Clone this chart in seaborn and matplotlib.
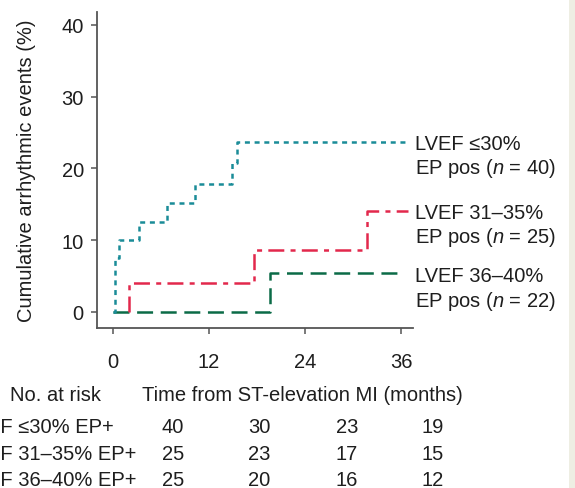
import matplotlib
matplotlib.use("Agg")
import matplotlib.pyplot as plt
import seaborn as sns
import pandas as pd
from matplotlib.patches import Rectangle

# ---- data ----
teal_t = [0, 0.25, 0.8, 3.2, 6.7, 10.3, 14.9, 15.5, 36.9]
teal_y = [0, 7.5, 10.0, 12.5, 15.2, 17.8, 20.8, 23.7, 23.7]
red_t = [2.0, 2.0, 17.6, 31.8, 36.9]
red_y = [0, 4.0, 8.7, 14.1, 14.1]
green_t = [0, 19.6, 35.9]
green_y = [0, 5.4, 5.4]

xticks = [0, 12, 24, 36]
yticks = [0, 10, 20, 30, 40]

group_labels = ["LVEF \u226430%\nEP pos ($n$ = 40)",
                "LVEF 31\u201335%\nEP pos ($n$ = 25)",
                "LVEF 36\u201340%\nEP pos ($n$ = 22)"]
risk_labels = ["LVEF \u226430% EP+", "LVEF 31\u201335% EP+", "LVEF 36\u201340% EP+"]
risk_row1 = [40, 30, 23, 19]
risk_row2 = [25, 23, 17, 15]
risk_row3 = [25, 20, 16, 12]

# ---- style ----
sns.set_style("ticks")
plt.rcParams['font.family'] = ['Liberation Sans', 'DejaVu Sans']
plt.rcParams['mathtext.fontset'] = 'custom'
plt.rcParams['mathtext.it'] = 'Liberation Sans:italic'
plt.rcParams['mathtext.rm'] = 'Liberation Sans'
plt.rcParams['lines.scale_dashes'] = False

W, H = 575, 489
FS = 14.5
TXT = '#1e1e1e'
fig = plt.figure(figsize=(W / 100, H / 100), dpi=100)
fig.patch.set_facecolor('white')
fig.patches.append(Rectangle((569 / W, 0), 6 / W, 1, transform=fig.transFigure,
                             facecolor='#eeeee3', edgecolor='none', zorder=0))

ax = fig.add_axes([97 / W, 1 - 329 / H, 316 / W, 316 / H])

df = pd.concat([
    pd.DataFrame({'t': teal_t, 'y': teal_y, 'g': 'teal'}),
    pd.DataFrame({'t': red_t, 'y': red_y, 'g': 'red'}),
    pd.DataFrame({'t': green_t, 'y': green_y, 'g': 'green'}),
])
colors = {'teal': '#1a8c98', 'red': '#e2284c', 'green': '#0b6b47'}
dashes = {'teal': (0, (3.6, 3.4)), 'red': (0, (11.5, 4.5, 3.6, 4.5)), 'green': (0, (11.5, 5.5))}
order = ['green', 'red', 'teal']
for g in order:
    sub = df[df.g == g]
    sns.lineplot(data=sub, x='t', y='y', ax=ax, color=colors[g], estimator=None,
                 sort=False, drawstyle='steps-post', linewidth=1.8, linestyle=dashes[g],
                 legend=False)

ax.set_xlim(-2, 37.5)
ax.set_ylim(-2.23, 41.8)
ax.set_xticks(xticks)
ax.set_yticks(yticks)
ax.set_xlabel('')
ax.set_ylabel('')
sns.despine(ax=ax)
for s in ['left', 'bottom']:
    ax.spines[s].set_color('#555555')
    ax.spines[s].set_linewidth(1.3)
ax.tick_params(axis='both', direction='out', length=4.5, width=1.1, color='#555555',
               labelsize=FS, labelcolor=TXT)
ax.tick_params(axis='x', pad=13)
ax.tick_params(axis='y', pad=5)
ax.patch.set_alpha(0)


def ftext(x, y, s, **kw):
    kw.setdefault('fontsize', FS)
    kw.setdefault('color', TXT)
    fig.text(x / W, 1 - y / H, s, **kw)


ftext(27, 171, 'Cumulative arrhythmic events (%)', rotation=90, ha='center', va='center')

# right-hand group labels
label_y = [157.5, 226.5, 290]
for lab, yy in zip(group_labels, label_y):
    ftext(415, yy, lab, ha='left', va='center', linespacing=1.22)

ftext(10, 396, 'No. at risk', ha='left', va='center')
ftext(142, 396, 'Time from ST-elevation MI (months)', ha='left', va='center')

risk_rows = [risk_row1, risk_row2, risk_row3]
row_y = [428, 455, 481]
col_x = [173, 259, 347, 433]
for lab, row, yy in zip(risk_labels, risk_rows, row_y):
    ftext(-36, yy, lab, ha='left', va='center')
    for xx, v in zip(col_x, row):
        ftext(xx, yy, str(v), ha='center', va='center')

fig.savefig('out.png', dpi=100)
